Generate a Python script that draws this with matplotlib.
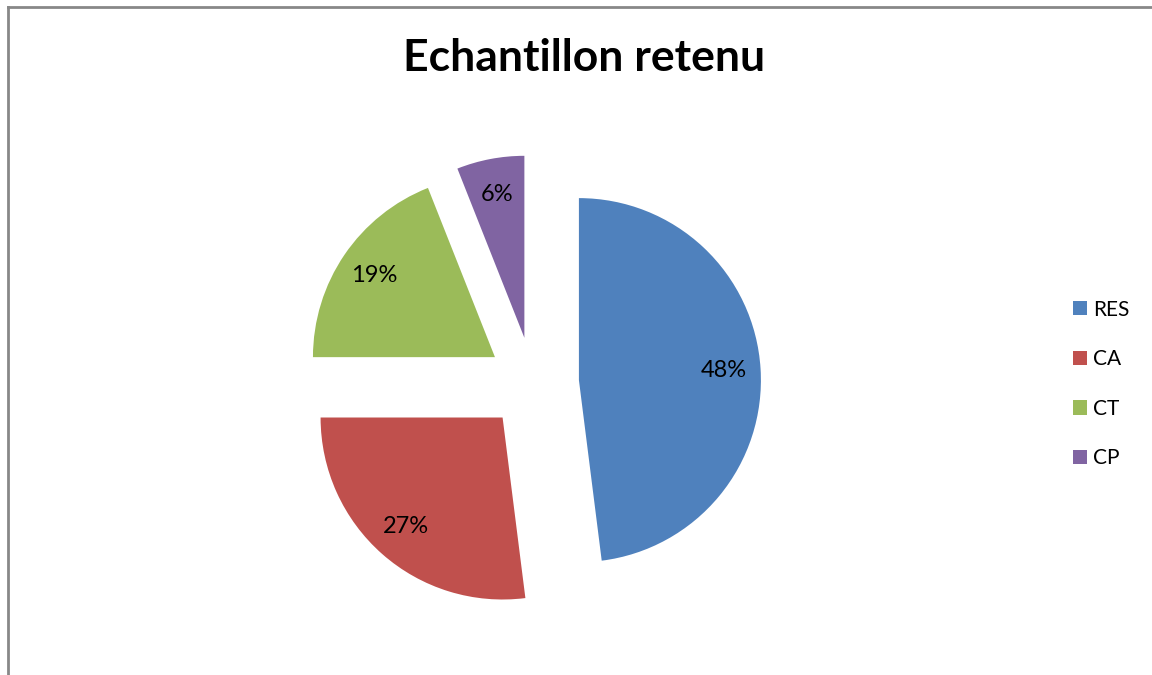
import matplotlib
matplotlib.use("Agg")
import matplotlib.pyplot as plt
from matplotlib.lines import Line2D

# data
categories = ["RES", "CA", "CT", "CP"]
shares = [48, 27, 19, 6]
colors = ["#4F81BD", "#C0504D", "#9BBB59", "#8064A2"]

W, H = 1152, 675
fig = plt.figure(figsize=(W / 100, H / 100), dpi=100)
ax = fig.add_axes([0, 0, 1, 1])

# explode is in data units here (axes units = pixels)
wedges, texts, autotexts = ax.pie(
    shares,
    colors=colors,
    explode=[46] * len(shares),
    startangle=90,
    counterclock=False,
    center=(533, H - 383),
    radius=182,
    autopct="%1.0f%%",
    pctdistance=0.8,
    textprops={"fontsize": 17, "family": "Lato", "color": "black"},
)
ax.set_xlim(0, W)
ax.set_ylim(0, H)
ax.set_aspect("equal")
ax.axis("off")

ax.text(584, H - 58, "Echantillon retenu", ha="center", va="center",
        fontsize=32, fontweight="bold", family="Lato")

leg = ax.legend(wedges, categories, loc="center left",
                bbox_to_anchor=(1054 / W, (H - 384) / H),
                frameon=False, handlelength=0.68, handleheight=0.68,
                handletextpad=0.3, labelspacing=1.42,
                prop={"family": "Lato", "size": 15})

# chart border (top and left)
fig.add_artist(Line2D([8 / W, 1], [1 - 6.5 / H, 1 - 6.5 / H],
                      transform=fig.transFigure, color="#888888", lw=2))
fig.add_artist(Line2D([8 / W, 8 / W], [0, 1 - 6.5 / H],
                      transform=fig.transFigure, color="#888888", lw=2))

fig.savefig("out.png", dpi=100)
